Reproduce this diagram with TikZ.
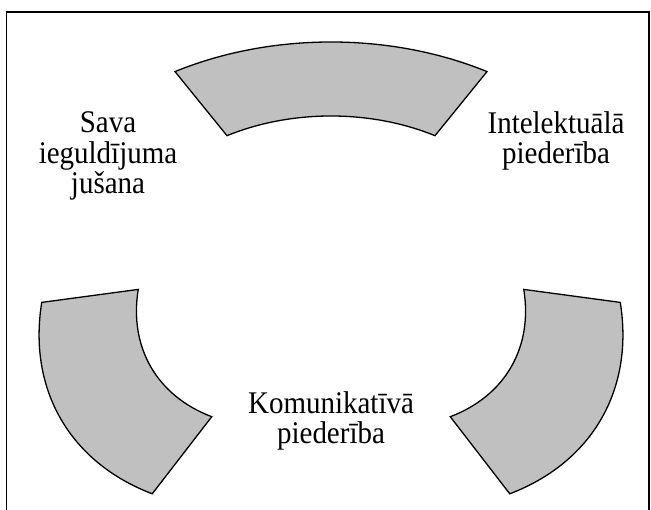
\documentclass[tikz,border=0pt]{standalone}
\usepackage{fontspec}
\setmainfont{Liberation Serif}
\newfontfamily\lblfont{Liberation Serif}[FakeStretch=0.92]
\definecolor{pieceGray}{RGB}{192,192,192}
\begin{document}
\begin{tikzpicture}[x=1pt,y=1pt,
  piece/.style={draw=black, line width=1.3pt, fill=pieceGray, line join=miter},
  lbl/.style={align=center, inner sep=0pt, font=\lblfont\fontsize{31.5}{30.5}\selectfont, anchor=base},
  frame/.style={draw=black, line width=1.6pt}]
\useasboundingbox (0,0) rectangle (651,510);
\coordinate (O) at (331,247);
% frame (bottom edge outside the picture)
\draw[frame] (6.5,-5) -- (6.5,498) -- (649,498) -- (649,-5);
% top piece
\begin{scope}[shift={(O)}]
  \draw[piece] ({312*cos(60)},{221*sin(60)}) arc[start angle=60,end angle=120,x radius=312,y radius=221]
    -- ({208*cos(120)},{147*sin(120)}) arc[start angle=120,end angle=60,x radius=208,y radius=147] -- cycle;
\end{scope}
% lower-left piece
\begin{scope}[shift={(O)},rotate=120]
  \draw[piece] ({221*cos(60)},{312*sin(60)}) arc[start angle=60,end angle=120,x radius=221,y radius=312]
    -- ({147*cos(120)},{208*sin(120)}) arc[start angle=120,end angle=60,x radius=147,y radius=208] -- cycle;
\end{scope}
% lower-right piece
\begin{scope}[shift={(O)},rotate=-120]
  \draw[piece] ({221*cos(60)},{312*sin(60)}) arc[start angle=60,end angle=120,x radius=221,y radius=312]
    -- ({147*cos(120)},{208*sin(120)}) arc[start angle=120,end angle=60,x radius=147,y radius=208] -- cycle;
\end{scope}
% labels (anchor = baseline of last line)
\node[lbl] (sava) at (108,316) {Sava\\ieguldījuma\\jušana};
\node[lbl] (intel) at (556,346) {Intelektuālā\\piederība};
\node[lbl] (komu) at (331,66) {Komunikatīvā\\piederība};
\end{tikzpicture}
\end{document}
